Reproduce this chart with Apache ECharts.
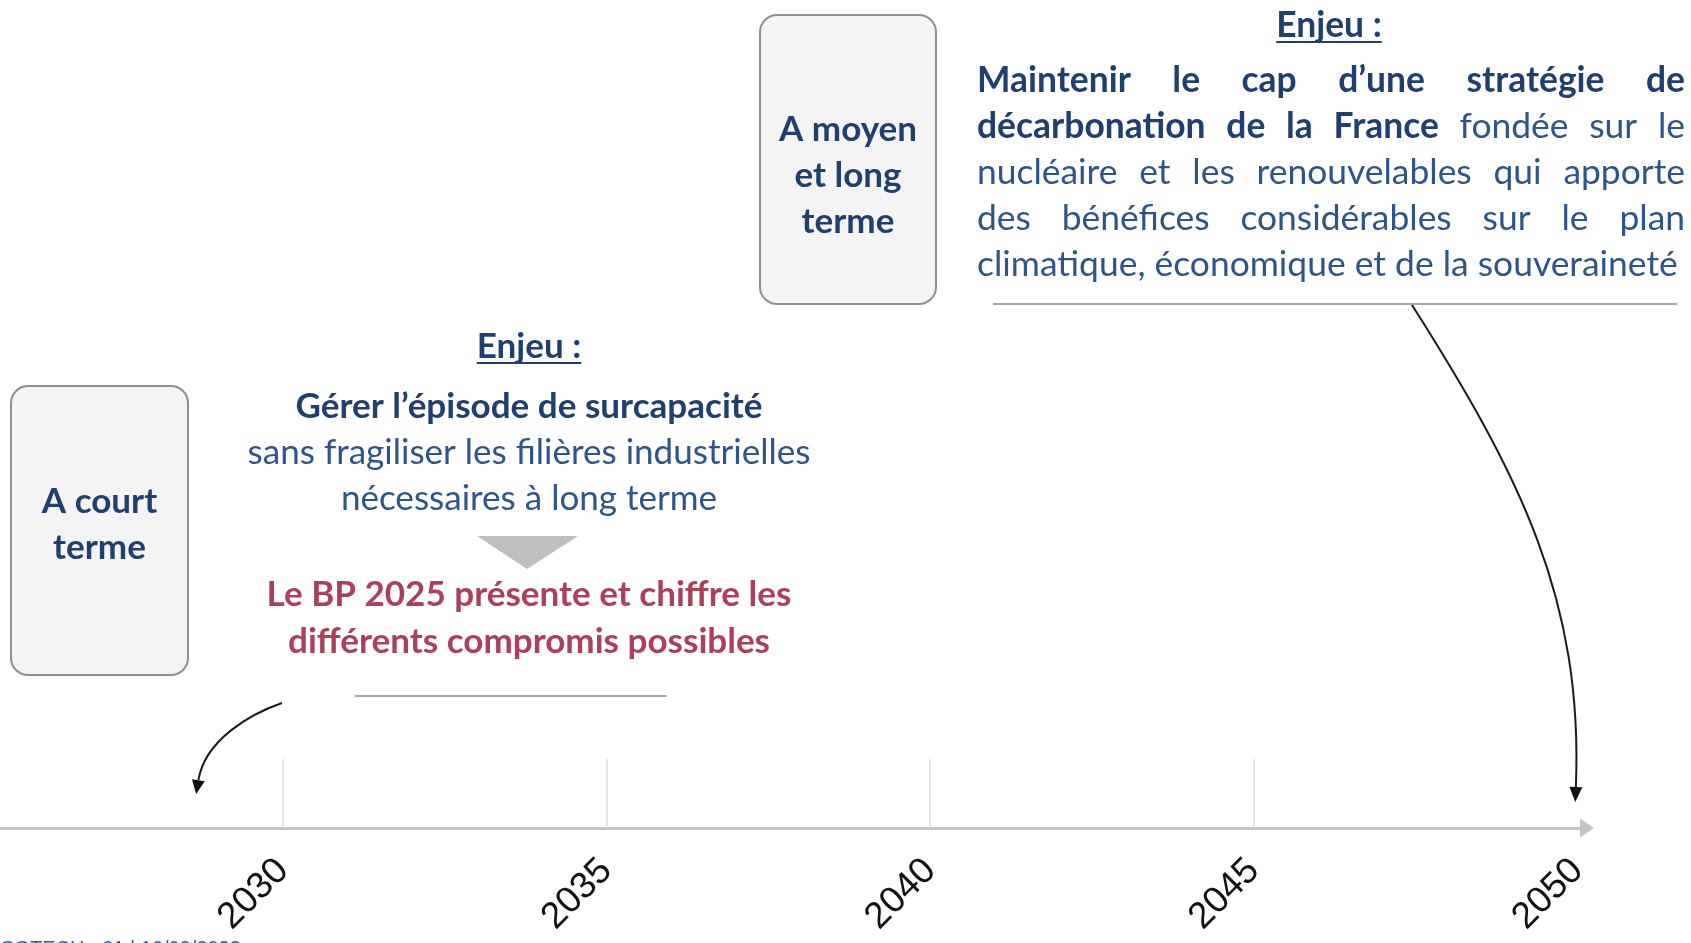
<!DOCTYPE html>
<html>
<head>
<meta charset="utf-8">
<script src="https://cdn.jsdelivr.net/npm/echarts@6/dist/echarts.min.js"></script>
<style>
    html, body { margin: 0; padding: 0; background: #fff; }
    #main { width: 1691px; height: 943px; }
</style>
</head>
<body>
<div id="main"></div>
<script>
// axis
var axis_range = [2025.63, 2050.15];
var tick_years = [2030, 2035, 2040, 2045];
var label_years = [2030, 2035, 2040, 2045, 2050];
// where the two curved arrows land on the timeline
var short_arrow_year = 2028.66;
var long_arrow_year = 2050;

// texts
var enjeu_title = "Enjeu :";
var box_short = ["A court", "terme"];
var box_long = ["A moyen", "et long", "terme"];
var short_head = "Gérer l’épisode de surcapacité";
var short_body = ["sans fragiliser les filières industrielles", "nécessaires à long terme"];
var short_result = ["Le BP 2025 présente et chiffre les", "différents compromis possibles"];
var long_lines = [
    [{t: "Maintenir le cap d’une stratégie de", b: true}],
    [{t: "décarbonation de la France", b: true}, {t: "fondée sur le", b: false}],
    [{t: "nucléaire et les renouvelables qui apporte", b: false}],
    [{t: "des bénéfices considérables sur le plan", b: false}],
    [{t: "climatique, économique et de la souveraineté", b: false}]
];
var footer_text = "COTECH - 01 | 10/09/2023";

var FONT = "Lato, 'Open Sans', sans-serif";
var C_BOLD = "#1E3F70";
var C_REG = "#2D558A";
var C_RED = "#AE3F5B";

var TIMELINE = {
    ctx: null,
    init: function(){
        var _this = this;
        _this.ctx = document.createElement("canvas").getContext("2d");
        var chart = echarts.init(document.getElementById("main"));
        chart.setOption(_this.axis_option());
        chart.setOption({graphic: {elements: _this.build_graphic(chart)}});
    },
    axis_option: function(){
        return {
            animation: false,
            grid: {left: 0, right: 104, top: 0, bottom: 943 - 828, containLabel: false},
            xAxis: {
                type: "value",
                min: axis_range[0],
                max: axis_range[1],
                splitLine: {show: false},
                axisLine: {
                    show: true,
                    lineStyle: {color: "#c3c3c3", width: 3},
                    symbol: ["none", "triangle"],
                    symbolSize: [19, 14]
                },
                axisTick: {
                    show: true,
                    inside: true,
                    length: 69,
                    customValues: tick_years,
                    lineStyle: {color: "#dcdcdc", width: 1.5}
                },
                axisLabel: {
                    show: true,
                    customValues: label_years,
                    rotate: 45,
                    margin: 37,
                    fontSize: 37,
                    color: "#111",
                    fontFamily: "'Liberation Sans', Arial, sans-serif",
                    formatter: function(v){ return String(v); }
                }
            },
            yAxis: {type: "value", min: 0, max: 1, show: false},
            series: [{type: "line", data: [], silent: true}]
        };
    },
    width_of: function(text, bold, size){
        this.ctx.font = (bold ? "bold " : "") + size + "px " + FONT;
        return this.ctx.measureText(text).width;
    },
    fit_size: function(text, bold, target){
        return 100 * target / this.width_of(text, bold, 100);
    },
    text: function(str, x, y, size, bold, color, align){
        return {
            type: "text",
            silent: true,
            style: {
                text: str, x: x, y: y,
                fill: color,
                font: (bold ? "bold " : "") + size + "px " + FONT,
                align: align || "center",
                verticalAlign: "middle"
            }
        };
    },
    // words spread over [x0, x1], or set with normal spaces when last line
    justify_line: function(segs, x0, x1, y, size, spread){
        var _this = this;
        var words = [];
        $each(segs, function(seg){
            $each(seg.t.split(" "), function(w){ words.push({w: w, b: seg.b}); });
        });
        var total = 0;
        $each(words, function(wd){ wd.width = _this.width_of(wd.w, wd.b, size); total += wd.width; });
        var gap = spread ? (x1 - x0 - total) / (words.length - 1) : _this.width_of(" ", false, size);
        var out = [];
        var x = x0;
        $each(words, function(wd){
            out.push(_this.text(wd.w, x, y, size, wd.b, wd.b ? C_BOLD : C_REG, "left"));
            x += wd.width + gap;
        });
        return out;
    },
    enjeu: function(cx, cy, size){
        var w = this.width_of(enjeu_title, true, size);
        return [
            this.text(enjeu_title, cx, cy, size, true, C_BOLD),
            {type: "line", silent: true, shape: {x1: cx - w / 2, y1: cy + 16, x2: cx + w / 2, y2: cy + 16},
             style: {stroke: C_BOLD, lineWidth: 2}}
        ];
    },
    box: function(x, y, w, h, lines, first_y, size){
        var _this = this;
        var out = [{
            type: "rect", silent: true,
            shape: {x: x, y: y, width: w, height: h, r: 17},
            style: {fill: "#f4f4f4", stroke: "#8f8f8f", lineWidth: 2}
        }];
        $each(lines, function(l, i){
            out.push(_this.text(l, x + w / 2, first_y + i * 46, size, true, C_BOLD));
        });
        return out;
    },
    arrow: function(p0, c1, c2, p1, head_len, head_w){
        var ang = Math.atan2(p1[1] - c2[1], p1[0] - c2[0]);
        var bx = p1[0] - head_len * Math.cos(ang), by = p1[1] - head_len * Math.sin(ang);
        var nx = -Math.sin(ang) * head_w / 2, ny = Math.cos(ang) * head_w / 2;
        return [
            {type: "bezierCurve", silent: true,
             shape: {x1: p0[0], y1: p0[1], cpx1: c1[0], cpy1: c1[1], cpx2: c2[0], cpy2: c2[1],
                     x2: bx, y2: by},
             style: {stroke: "#1a1a1a", lineWidth: 2, fill: null}},
            {type: "polygon", silent: true,
             shape: {points: [[p1[0], p1[1]], [bx + nx, by + ny], [bx - nx, by - ny]]},
             style: {fill: "#111"}}
        ];
    },
    build_graphic: function(chart){
        var _this = this;
        var els = [];
        var push = function(arr){ $each(arr, function(e){ els.push(e); }); };

        var size_r = _this.fit_size(long_lines[4][0].t, false, 701);
        var size_c = _this.fit_size(short_body[0], false, 563);

        // long term block
        push(_this.box(760, 15, 176, 289, box_long, 130, size_c));
        push(_this.enjeu(1329, 26, size_r));
        $each(long_lines, function(segs, i){
            push(_this.justify_line(segs, 977, 1685, 81 + i * 46, size_r, i < long_lines.length - 1));
        });
        els.push({type: "line", silent: true, shape: {x1: 993, y1: 304, x2: 1677, y2: 304},
                  style: {stroke: "#a8a8a8", lineWidth: 2}});

        // short term block
        push(_this.box(11, 386, 177, 289, box_short, 502, size_c));
        push(_this.enjeu(529, 347, size_c));
        els.push(_this.text(short_head, 529, 407, size_c, true, C_BOLD));
        $each(short_body, function(l, i){ els.push(_this.text(l, 529, 453 + i * 46, size_c, false, C_REG)); });
        els.push({type: "polygon", silent: true,
                  shape: {points: [[477, 536], [578, 536], [527, 569]]},
                  style: {fill: "#bfbfbf"}});
        $each(short_result, function(l, i){ els.push(_this.text(l, 529, 595 + i * 47, size_c, true, C_RED)); });
        els.push({type: "line", silent: true, shape: {x1: 355, y1: 696, x2: 667, y2: 696},
                  style: {stroke: "#a8a8a8", lineWidth: 2}});

        // arrows towards the timeline
        var xs = chart.convertToPixel({xAxisIndex: 0}, short_arrow_year);
        var xl = chart.convertToPixel({xAxisIndex: 0}, long_arrow_year);
        push(_this.arrow([282, 703], [250, 714], [205, 740], [xs, 794], 14, 13));
        push(_this.arrow([1412, 305], [1520, 475], [xl + 6, 600], [xl - 2, 802], 15, 13));

        els.push({type: "text", silent: true,
                  style: {text: footer_text, x: 0, y: 959, fill: "#1f5fae",
                          font: "20px 'Liberation Sans', Arial, sans-serif",
                          align: "left", verticalAlign: "bottom"}});
        return els;
    }
};

function $each(arr, fn){
    for (var i = 0; i < arr.length; i++) fn(arr[i], i);
}

TIMELINE.init();
</script>
</body>
</html>
